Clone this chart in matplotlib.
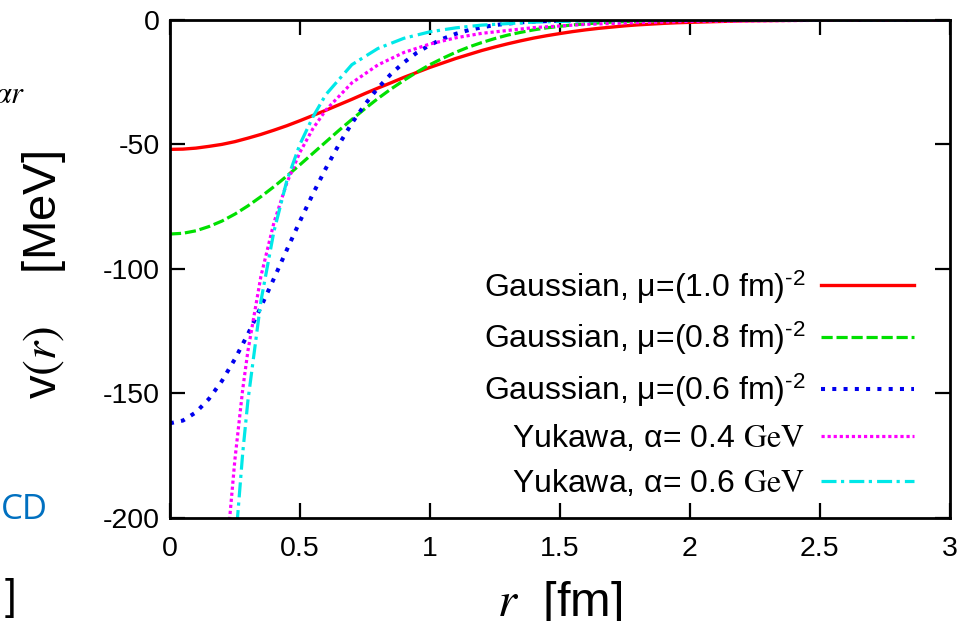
import matplotlib
matplotlib.use("Agg")
import matplotlib.pyplot as plt

plt.rcParams['font.family'] = ['Liberation Sans', 'DejaVu Sans']
plt.rcParams['mathtext.fontset'] = 'stix'
plt.rcParams['axes.unicode_minus'] = False

# Gaussian potentials
r_gauss = [0.0, 0.05, 0.1, 0.15, 0.2, 0.25, 0.3, 0.35, 0.4, 0.45, 0.5, 0.55, 0.6,
           0.65, 0.7, 0.75, 0.8, 0.85, 0.9, 0.95, 1.0, 1.05, 1.1, 1.15, 1.2, 1.25,
           1.3, 1.35, 1.4, 1.45, 1.5, 1.55, 1.6, 1.65, 1.7, 1.75, 1.8, 1.85, 1.9,
           1.95, 2.0, 2.2, 2.4, 2.6, 3.0]
v_gauss_10 = [-52.0, -51.9, -51.5, -50.8, -50.0, -48.9, -47.5, -46.0, -44.3, -42.5,
              -40.5, -38.4, -36.3, -34.1, -31.9, -29.6, -27.4, -25.3, -23.1, -21.1,
              -19.1, -17.3, -15.5, -13.9, -12.3, -10.9, -9.6, -8.4, -7.3, -6.35,
              -5.5, -4.7, -4.0, -3.4, -2.9, -2.4, -2.0, -1.7, -1.4, -1.16,
              -1.0, -0.4, -0.2, -0.1, 0.0]
v_gauss_08 = [-86.0, -85.7, -84.7, -83.0, -80.8, -78.0, -74.7, -71.0, -67.0, -62.7,
              -58.2, -53.6, -49.0, -44.4, -40.0, -35.7, -31.6, -27.8, -24.3, -21.0,
              -18.0, -15.4, -13.0, -10.9, -9.1, -7.5, -6.1, -5.0, -4.0, -3.2,
              -2.6, -2.0, -1.6, -1.2, -0.9, -0.7, -0.5, -0.4, -0.3, -0.2,
              -0.2, 0.0, 0.0, 0.0, 0.0]
v_gauss_06 = [-162.0, -160.9, -157.6, -152.2, -145.0, -136.2, -126.2, -115.3, -103.9, -92.3,
              -80.9, -69.9, -59.6, -50.1, -41.5, -34.0, -27.4, -21.8, -17.1, -13.2,
              -10.1, -7.6, -5.6, -4.1, -3.0, -2.1, -1.5, -1.0, -0.7, -0.5,
              -0.3, -0.2, -0.1, -0.1, 0.0, 0.0, 0.0, 0.0, 0.0, 0.0,
              0.0, 0.0, 0.0, 0.0, 0.0]

# Yukawa potentials (diverge at small r)
r_yuk_04 = [0.22, 0.23, 0.25, 0.28, 0.3, 0.35, 0.4, 0.45, 0.5, 0.55, 0.6, 0.7, 0.8,
            0.9, 1.0, 1.1, 1.2, 1.4, 1.6, 1.8, 2.0, 2.5, 3.0]
v_yuk_04 = [-213.0, -200.0, -176.6, -148.4, -133.0, -103.0, -81.5, -65.4, -53.2, -43.7,
            -36.2, -25.3, -18.1, -13.1, -9.7, -7.2, -5.4, -3.1, -1.8, -1.1,
            -0.6, -0.2, -0.1]
r_yuk_06 = [0.25, 0.26, 0.28, 0.3, 0.35, 0.4, 0.45, 0.5, 0.55, 0.6, 0.7, 0.8, 0.9,
            1.0, 1.1, 1.2, 1.4, 1.6, 1.8, 2.0, 2.5, 3.0]
v_yuk_06 = [-214.0, -200.0, -174.0, -153.0, -113.0, -85.0, -64.5, -50.0, -39.0, -30.0,
            -18.0, -11.5, -7.4, -4.8, -3.2, -2.1, -0.9, -0.4, -0.2, -0.1,
            0.0, 0.0]

labels = [
    'Gaussian, μ=(1.0 fm)$^{\\mathregular{\u20102}}$',
    'Gaussian, μ=(0.8 fm)$^{\\mathregular{\u20102}}$',
    'Gaussian, μ=(0.6 fm)$^{\\mathregular{\u20102}}$',
    r'Yukawa, α= 0.4 $\mathrm{GeV}$',
    r'Yukawa, α= 0.6 $\mathrm{GeV}$',
]
xticks = [0, 0.5, 1, 1.5, 2, 2.5, 3]
xticklabels = ['0', '0.5', '1', '1.5', '2', '2.5', '3']
yticks = [0, -50, -100, -150, -200]

fig = plt.figure(figsize=(9.71, 6.21), dpi=100)
ax = fig.add_axes([0.175, 0.166, 0.803, 0.802])

lw = 2.3
ax.plot(r_gauss, v_gauss_10, color='#ff0000', lw=2.4, label=labels[0])
ax.plot(r_gauss, v_gauss_08, color='#00e000', lw=lw, dashes=(3.5, 1.2), label=labels[1])
ax.plot(r_gauss, v_gauss_06, color='#0000ee', lw=2.9, dashes=(1.0, 1.8), label=labels[2])
ax.plot(r_yuk_04, v_yuk_04, color='#ff00ff', lw=lw, dashes=(1.0, 0.9), label=labels[3])
ax.plot(r_yuk_06, v_yuk_06, color='#00e8e8', lw=lw, dashes=(4.7, 1.4, 1.0, 1.6),
        label=labels[4])

ax.set_xlim(0, 3)
ax.set_ylim(-200, 0)
ax.set_xticks(xticks)
ax.set_xticklabels(xticklabels)
ax.set_yticks(yticks)
ax.tick_params(direction='in', length=11, width=1.6, labelsize=20.5,
               top=True, right=True)
ax.tick_params(axis='x', pad=13)
ax.tick_params(axis='y', pad=7)
for s in ax.spines.values():
    s.set_linewidth(2)

ax.set_xlabel(r'$r$  [fm]', fontsize=35, va='top')
ax.set_ylabel(r'v$(r)$    [MeV]', fontsize=34)
ax.xaxis.set_label_coords(0.5, -0.122)
ax.yaxis.set_label_coords(-0.131, 0.488)

leg = ax.legend(loc='lower right', bbox_to_anchor=(0.954, 0.038), frameon=False,
                markerfirst=False, fontsize=23, handlelength=2.9, handletextpad=0.5,
                labelspacing=0.44, borderpad=0, borderaxespad=0)

# slide text cut off at the left edge
fig.text(25 / 971, 1 - 95 / 621, r'$\alpha r$', fontsize=22, ha='right', va='center')
fig.text(48 / 971, 1 - 510 / 621, 'CD', fontsize=25, color='#0070c0', ha='right',
         va='center', family=['Open Sans', 'DejaVu Sans'])
fig.text(16 / 971, 1 - 598 / 621, ']', fontsize=30, ha='right', va='center')

fig.savefig('out.png', dpi=100)
